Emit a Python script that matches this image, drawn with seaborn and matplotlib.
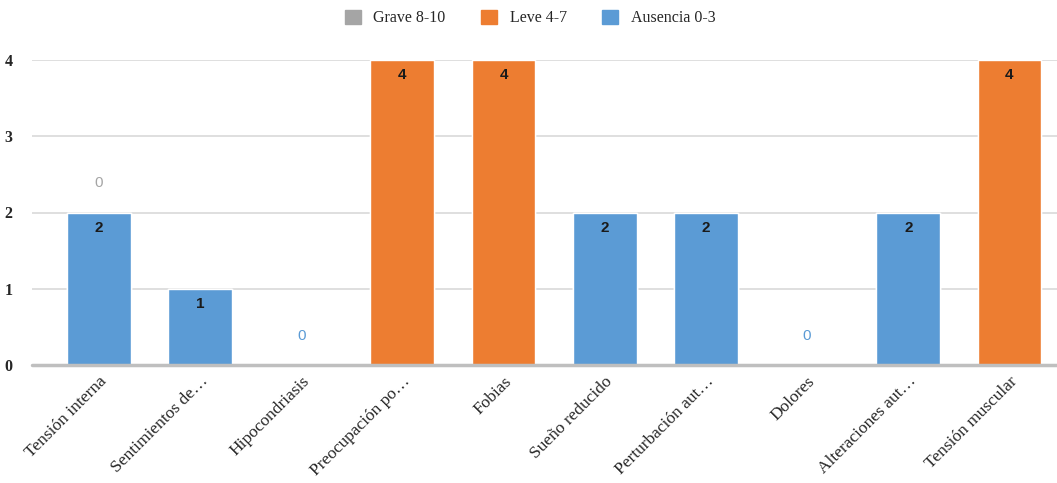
import matplotlib
matplotlib.use("Agg")
import matplotlib.pyplot as plt
from matplotlib.patches import Patch
import seaborn as sns
import pandas as pd

categories = ["Tensión interna", "Sentimientos de…", "Hipocondriasis", "Preocupación po…",
              "Fobias", "Sueño reducido", "Perturbación aut…", "Dolores",
              "Alteraciones aut…", "Tensión muscular"]
ausencia = [2, 1, 0, 0, 0, 2, 2, 0, 2, 0]
leve = [0, 0, 0, 4, 4, 0, 0, 0, 0, 4]
grave = [0, 0, 0, 0, 0, 0, 0, 0, 0, 0]
# zero labels shown in the original: (category, series)
zero_labels = [("Tensión interna", "grave"), ("Hipocondriasis", "ausencia"), ("Dolores", "ausencia")]

c_grave = "#a5a5a5"
c_leve = "#ed7d31"
c_aus = "#5b9bd5"

df = pd.DataFrame({"cat": categories, "aus": ausencia, "leve": leve, "grave": grave})
df["s_leve"] = df["aus"] + df["leve"]
df["s_grave"] = df["s_leve"] + df["grave"]

sns.set_style("white")
plt.rcParams["font.family"] = ["Liberation Serif", "DejaVu Serif"]

fig = plt.figure(figsize=(10.57, 4.83), dpi=100)
ax = fig.add_axes([32 / 1057, 118 / 483, 1025 / 1057, 305 / 483])

# stacked by layering cumulative totals
sns.barplot(data=df, x="cat", y="s_grave", color=c_grave, width=0.63, saturation=1, ax=ax, zorder=2)
sns.barplot(data=df, x="cat", y="s_leve", color=c_leve, width=0.63, saturation=1, ax=ax, zorder=3)
sns.barplot(data=df, x="cat", y="aus", color=c_aus, width=0.63, saturation=1, ax=ax, zorder=4)

ax.set_xlim(-0.66, 9.47)
ax.set_ylim(0, 4)
ax.set_yticks([0, 1, 2, 3, 4])
ax.yaxis.grid(True, color="#d9d9d9", linewidth=1.2, zorder=0)
ax.set_axisbelow(True)
for s in ax.spines.values():
    s.set_visible(False)
ax.axhline(0, color="#bfbfbf", linewidth=2.5, zorder=5, clip_on=False)
ax.set_xlabel("")
ax.set_ylabel("")
ax.tick_params(axis="both", length=0)
ax.tick_params(axis="y", pad=14)
for t in ax.get_yticklabels():
    t.set_fontsize(11.5)
    t.set_fontweight("bold")
ax.set_xticks(range(len(categories)))
ax.set_xticklabels(categories, rotation=45, ha="right", rotation_mode="anchor", fontsize=12.5)
ax.tick_params(axis="x", pad=6)

# value labels inside bars
lab_font = dict(family=["Liberation Sans", "DejaVu Sans"], fontsize=11, fontweight="bold", color="#1a1a1a")
for i, row in df.iterrows():
    if row["aus"] > 0:
        ax.annotate(str(row["aus"]), (i, row["aus"]), xytext=(0, -11), textcoords="offset points",
                    ha="center", va="center", zorder=6, **lab_font)
    if row["leve"] > 0:
        ax.annotate(str(row["leve"]), (i, row["s_leve"]), xytext=(0, -11), textcoords="offset points",
                    ha="center", va="center", zorder=6, **lab_font)

zcol = {"grave": c_grave, "ausencia": c_aus}
for cat, series in zero_labels:
    i = categories.index(cat)
    ax.annotate("0", (i, df.loc[i, "s_grave"]), xytext=(0, 21), textcoords="offset points",
                ha="center", va="center", family=["Liberation Sans", "DejaVu Sans"],
                fontsize=11, color=zcol[series], zorder=6)

handles = [Patch(color=c_grave, label="Grave 8-10"),
           Patch(color=c_leve, label="Leve 4-7"),
           Patch(color=c_aus, label="Ausencia 0-3")]
fig.legend(handles=handles, loc="center", bbox_to_anchor=(530 / 1057, 1 - 18 / 483), ncol=3,
           frameon=False, fontsize=11.5, handlelength=1.0, handleheight=1.0,
           columnspacing=2.2, handletextpad=0.8)

fig.savefig("out.png", dpi=100)
